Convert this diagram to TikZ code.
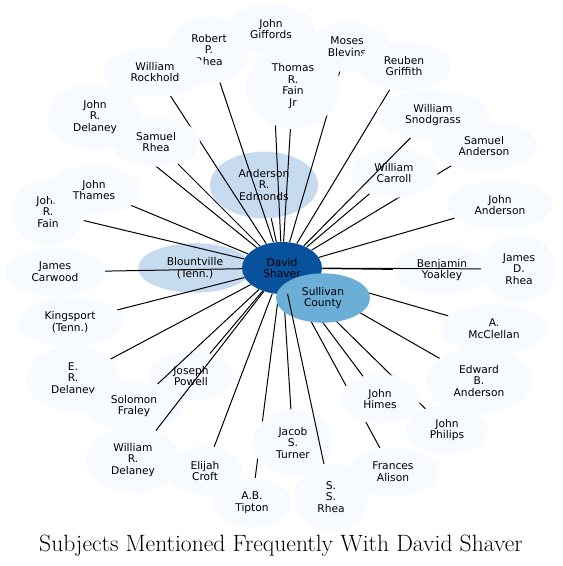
\documentclass[tikz,border=0pt]{standalone}
\usepackage{fontspec}
\usepackage{xcolor}
\usepackage{tikz}
\usetikzlibrary{shapes}
\newfontfamily\dejavu{DejaVu Sans}
\definecolor{blues0}{HTML}{F7FBFF}
\definecolor{blues2}{HTML}{C6DBEF}
\definecolor{blues4}{HTML}{6BAED6}
\definecolor{blues6}{HTML}{08519C}
\pgfdeclarelayer{under}
\pgfdeclarelayer{links}
\pgfsetlayers{under,links,main}
\tikzset{ subj_var/.style = {ellipse, fill=blues0, inner sep=0pt, align=center, minimum height=37pt, font=\dejavu\fontsize{8}{8.8}\selectfont} }
\tikzset{ tall_var/.style = {subj_var, minimum height=50pt} }
\tikzset{ link/.style = {line width=0.75pt} }

\begin{document}
\begin{tikzpicture}[x=0.75pt, y=-0.75pt]
            \useasboundingbox (0, 0) rectangle (562, 566);
            \begin{pgfonlayer}{under}
            \node [subj_var, fill=blues2, minimum width=81pt, minimum height=50pt] (1) at (264, 185) {Anderson\\R.\\Edmonds};
            \node [subj_var, fill=blues2, minimum width=85.5pt] (2) at (195, 268) {Blountville\\(Tenn.)};
            \end{pgfonlayer}
            \node [subj_var, fill=blues6, minimum width=60pt, minimum height=39pt] (0) at (282, 268) {David\\Shaver};
            \node [subj_var, fill=blues4, minimum width=70.5pt] (3) at (323, 298) {Sullivan\\County};
            \node [subj_var, minimum width=66pt] (4) at (271, 29) {John\\Giffords};
            \node [tall_var, minimum width=61.5pt] (5) at (209, 50) {Robert\\P.\\Rhea};
            \node [subj_var, minimum width=78pt] (6) at (155, 72) {William\\Rockhold};
            \node [tall_var, minimum width=70.5pt, minimum height=64pt] (7) at (293, 86) {Thomas\\R.\\Fain\\Jr};
            \node [subj_var, minimum width=63pt] (8) at (347, 47) {Moses\\Blevins};
            \node [subj_var, minimum width=70pt] (9) at (404, 66) {Reuben\\Griffith};
            \node [tall_var, minimum width=70.5pt] (10) at (95, 117) {John\\R.\\Delaney};
            \node [subj_var, minimum width=66pt] (11) at (156, 142) {Samuel\\Rhea};
            \node [subj_var, minimum width=84.75pt] (12) at (433, 115) {William\\Snodgrass};
            \node [subj_var, minimum width=79.5pt] (13) at (484, 146) {Samuel\\Anderson};
            \node [subj_var, minimum width=65.25pt] (14) at (394, 173) {William\\Carroll};
            \node [subj_var, minimum width=79.5pt] (15) at (500, 205) {John\\Anderson};
            \node [tall_var, minimum width=54.75pt] (16) at (48, 212) {John\\R.\\Fain};
            \node [subj_var, minimum width=70pt] (17) at (94, 190) {John\\Thames};
            \node [subj_var, minimum width=75pt] (18) at (55, 272) {James\\Carwood};
            \node [subj_var, minimum width=73.5pt] (19) at (442, 270) {Benjamin\\Yoakley};
            \node [tall_var, minimum width=56.25pt] (20) at (519, 269) {James\\D.\\Rhea};
            \node [subj_var, minimum width=80.25pt] (21) at (70, 322) {Kingsport\\(Tenn.)};
            \node [subj_var, minimum width=80.25pt] (22) at (494, 329) {A.\\McClellan};
            \node [tall_var, minimum width=69.75pt] (23) at (73, 379) {E.\\R.\\Delaney};
            \node [subj_var, minimum width=63.75pt] (24) at (191, 376) {Joseph\\Powell};
            \node [tall_var, minimum width=79.5pt] (25) at (479, 381) {Edward\\B.\\Anderson};
            \node [subj_var, minimum width=75pt] (26) at (134, 406) {Solomon\\Fraley};
            \node [subj_var, minimum width=60pt] (27) at (380, 399) {John\\Himes};
            \node [tall_var, minimum width=60pt] (28) at (293, 443) {Jacob\\S.\\Turner};
            \node [subj_var, minimum width=61.5pt] (29) at (447, 430) {John\\Philips};
            \node [tall_var, minimum width=70.5pt] (30) at (133, 460) {William\\R.\\Delaney};
            \node [subj_var, minimum width=55.5pt] (31) at (205, 471) {Elijah\\Croft};
            \node [subj_var, minimum width=68.25pt] (32) at (393, 472) {Frances\\Alison};
            \node [subj_var, minimum width=60pt] (33) at (252, 503) {A.B.\\Tipton};
            \node [tall_var, minimum width=54.75pt] (34) at (331, 497) {S.\\S.\\Rhea};
            \begin{pgfonlayer}{links}
            \foreach \n in {1,...,11,13,14,15,16,17,18,19,21,22,23,24,25,27,28,29,31,32,33}
                \draw[link] (0) to (\n);
            \end{pgfonlayer}
            % these cross over other nodes
            \foreach \n in {12,20,26,30,34}
                \draw[link] (0) to (\n);
            \node (title) at (281, 546) {\fontsize{17.7}{21}\selectfont Subjects Mentioned Frequently With David Shaver};
        \end{tikzpicture}
\end{document}
